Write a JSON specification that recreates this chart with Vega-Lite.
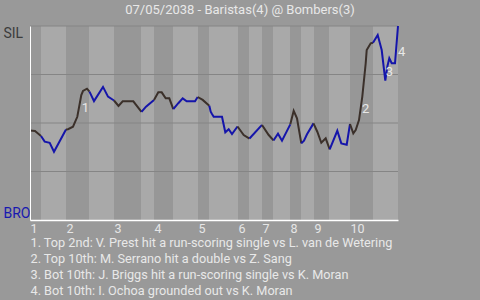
{
  "$schema": "https://vega.github.io/schema/vega-lite/v6.json",
  "width": 368,
  "height": 194,
  "autosize": {"type": "none"},
  "padding": {"left": 30, "top": 26, "right": 82, "bottom": 80},
  "background": "#999999",
  "config": {"view": {"stroke": null}, "font": "Roboto"},
  "title": {
    "text": "07/05/2038 - Baristas(4) @ Bombers(3)",
    "color": "#e8e8e8",
    "fontSize": 13,
    "fontWeight": "normal",
    "anchor": "middle",
    "frame": "group",
    "dx": 26,
    "offset": 5
  },
  "datasets": {
    "bands": [
      {"t": 0, "t2": 11, "k": "top"}, {"t": 11, "t2": 36, "k": "bot"},
      {"t": 36, "t2": 59, "k": "top"}, {"t": 59, "t2": 84, "k": "bot"},
      {"t": 84, "t2": 111, "k": "top"}, {"t": 111, "t2": 124, "k": "bot"},
      {"t": 124, "t2": 143, "k": "top"}, {"t": 143, "t2": 168, "k": "bot"},
      {"t": 168, "t2": 179, "k": "top"}, {"t": 179, "t2": 208, "k": "bot"},
      {"t": 208, "t2": 219, "k": "top"}, {"t": 219, "t2": 232, "k": "bot"},
      {"t": 232, "t2": 243, "k": "top"}, {"t": 243, "t2": 260, "k": "bot"},
      {"t": 260, "t2": 271, "k": "top"}, {"t": 271, "t2": 284, "k": "bot"},
      {"t": 284, "t2": 299, "k": "top"}, {"t": 299, "t2": 320, "k": "bot"},
      {"t": 320, "t2": 343, "k": "top"}, {"t": 343, "t2": 368, "k": "bot"}
    ],
    "grid": [{"p": 0.25}, {"p": 0.5}, {"p": 0.75}, {"p": 1}],
    "wp": [
      {"h": 0, "k": "top", "t": 0, "p": 0.461}, {"h": 0, "k": "top", "t": 5, "p": 0.459}, {"h": 0, "k": "top", "t": 11, "p": 0.433},
      {"h": 1, "k": "bot", "t": 11, "p": 0.433}, {"h": 1, "k": "bot", "t": 14.7, "p": 0.404}, {"h": 1, "k": "bot", "t": 19.7, "p": 0.398}, {"h": 1, "k": "bot", "t": 24, "p": 0.352}, {"h": 1, "k": "bot", "t": 36, "p": 0.466},
      {"h": 2, "k": "top", "t": 36, "p": 0.466}, {"h": 2, "k": "top", "t": 38, "p": 0.468}, {"h": 2, "k": "top", "t": 43, "p": 0.481}, {"h": 2, "k": "top", "t": 47.3, "p": 0.532}, {"h": 2, "k": "top", "t": 51.3, "p": 0.644}, {"h": 2, "k": "top", "t": 53, "p": 0.665}, {"h": 2, "k": "top", "t": 57, "p": 0.677}, {"h": 2, "k": "top", "t": 59.5, "p": 0.662},
      {"h": 3, "k": "bot", "t": 59.5, "p": 0.662}, {"h": 3, "k": "bot", "t": 64, "p": 0.613}, {"h": 3, "k": "bot", "t": 73, "p": 0.686}, {"h": 3, "k": "bot", "t": 78, "p": 0.636}, {"h": 3, "k": "bot", "t": 84, "p": 0.616},
      {"h": 4, "k": "top", "t": 84, "p": 0.616}, {"h": 4, "k": "top", "t": 88.5, "p": 0.588}, {"h": 4, "k": "top", "t": 92.7, "p": 0.612}, {"h": 4, "k": "top", "t": 103.3, "p": 0.612}, {"h": 4, "k": "top", "t": 111.5, "p": 0.557},
      {"h": 5, "k": "bot", "t": 111.5, "p": 0.557}, {"h": 5, "k": "bot", "t": 116, "p": 0.584}, {"h": 5, "k": "bot", "t": 124, "p": 0.619},
      {"h": 6, "k": "top", "t": 124, "p": 0.619}, {"h": 6, "k": "top", "t": 128.3, "p": 0.658}, {"h": 6, "k": "top", "t": 131.7, "p": 0.658}, {"h": 6, "k": "top", "t": 135.7, "p": 0.627}, {"h": 6, "k": "top", "t": 139.3, "p": 0.627}, {"h": 6, "k": "top", "t": 143.3, "p": 0.572},
      {"h": 7, "k": "bot", "t": 143.3, "p": 0.572}, {"h": 7, "k": "bot", "t": 148.3, "p": 0.602}, {"h": 7, "k": "bot", "t": 152.7, "p": 0.627}, {"h": 7, "k": "bot", "t": 156.7, "p": 0.612}, {"h": 7, "k": "bot", "t": 165, "p": 0.612}, {"h": 7, "k": "bot", "t": 167.7, "p": 0.634},
      {"h": 8, "k": "top", "t": 167.7, "p": 0.634}, {"h": 8, "k": "top", "t": 172.7, "p": 0.619}, {"h": 8, "k": "top", "t": 179.3, "p": 0.589},
      {"h": 9, "k": "bot", "t": 179.3, "p": 0.589}, {"h": 9, "k": "bot", "t": 180.7, "p": 0.558}, {"h": 9, "k": "bot", "t": 182, "p": 0.546}, {"h": 9, "k": "bot", "t": 183.7, "p": 0.532}, {"h": 9, "k": "bot", "t": 192, "p": 0.532}, {"h": 9, "k": "bot", "t": 195.3, "p": 0.452}, {"h": 9, "k": "bot", "t": 198.7, "p": 0.468}, {"h": 9, "k": "bot", "t": 202, "p": 0.443}, {"h": 9, "k": "bot", "t": 207.5, "p": 0.482},
      {"h": 10, "k": "top", "t": 207.5, "p": 0.482}, {"h": 10, "k": "top", "t": 213.7, "p": 0.438}, {"h": 10, "k": "top", "t": 219.5, "p": 0.42},
      {"h": 11, "k": "bot", "t": 219.5, "p": 0.42}, {"h": 11, "k": "bot", "t": 232, "p": 0.49},
      {"h": 12, "k": "top", "t": 232, "p": 0.49}, {"h": 12, "k": "top", "t": 238.7, "p": 0.438}, {"h": 12, "k": "top", "t": 243.5, "p": 0.41},
      {"h": 13, "k": "bot", "t": 243.5, "p": 0.41}, {"h": 13, "k": "bot", "t": 248, "p": 0.445}, {"h": 13, "k": "bot", "t": 252, "p": 0.409}, {"h": 13, "k": "bot", "t": 260.3, "p": 0.493},
      {"h": 14, "k": "top", "t": 260.3, "p": 0.493}, {"h": 14, "k": "top", "t": 263.7, "p": 0.563}, {"h": 14, "k": "top", "t": 267, "p": 0.524}, {"h": 14, "k": "top", "t": 271.3, "p": 0.395},
      {"h": 15, "k": "bot", "t": 271.3, "p": 0.395}, {"h": 15, "k": "bot", "t": 274, "p": 0.409}, {"h": 15, "k": "bot", "t": 277, "p": 0.442}, {"h": 15, "k": "bot", "t": 283.5, "p": 0.498},
      {"h": 16, "k": "top", "t": 283.5, "p": 0.498}, {"h": 16, "k": "top", "t": 287.3, "p": 0.455}, {"h": 16, "k": "top", "t": 291.3, "p": 0.398}, {"h": 16, "k": "top", "t": 295.7, "p": 0.421}, {"h": 16, "k": "top", "t": 299.7, "p": 0.364},
      {"h": 17, "k": "bot", "t": 299.7, "p": 0.364}, {"h": 17, "k": "bot", "t": 307.3, "p": 0.46}, {"h": 17, "k": "bot", "t": 311.3, "p": 0.395}, {"h": 17, "k": "bot", "t": 316.7, "p": 0.388}, {"h": 17, "k": "bot", "t": 320, "p": 0.495},
      {"h": 18, "k": "top", "t": 320, "p": 0.495}, {"h": 18, "k": "top", "t": 323.3, "p": 0.447}, {"h": 18, "k": "top", "t": 325.7, "p": 0.464}, {"h": 18, "k": "top", "t": 329, "p": 0.515}, {"h": 18, "k": "top", "t": 332.3, "p": 0.636}, {"h": 18, "k": "top", "t": 335.7, "p": 0.808}, {"h": 18, "k": "top", "t": 336.7, "p": 0.876}, {"h": 18, "k": "top", "t": 340.7, "p": 0.911}, {"h": 18, "k": "top", "t": 343, "p": 0.914},
      {"h": 19, "k": "bot", "t": 343, "p": 0.914}, {"h": 19, "k": "bot", "t": 347.7, "p": 0.954}, {"h": 19, "k": "bot", "t": 351.7, "p": 0.876}, {"h": 19, "k": "bot", "t": 355.3, "p": 0.719}, {"h": 19, "k": "bot", "t": 357.3, "p": 0.79}, {"h": 19, "k": "bot", "t": 359.3, "p": 0.834}, {"h": 19, "k": "bot", "t": 361.7, "p": 0.808}, {"h": 19, "k": "bot", "t": 365, "p": 0.808}, {"h": 19, "k": "bot", "t": 368, "p": 1.0}
    ],
    "notes": [
      {"lbl": "1", "t": 55.3, "p": 0.576},
      {"lbl": "2", "t": 335.7, "p": 0.571},
      {"lbl": "3", "t": 359.3, "p": 0.764},
      {"lbl": "4", "t": 371.7, "p": 0.868}
    ]
  },
  "encoding": {
    "x": {
      "field": "t", "type": "quantitative",
      "scale": {"domain": [0, 368], "nice": false, "zero": false},
      "axis": {
        "values": [0, 36, 84, 124, 168, 208, 232, 260, 284, 320],
        "labelExpr": "indexof([0, 36, 84, 124, 168, 208, 232, 260, 284, 320], datum.value) + 1",
        "labelAlign": "left",
        "labelOverlap": false,
        "labelFlush": false,
        "labelPadding": 2,
        "labelColor": "#e6e6e6",
        "labelFontSize": 12.5,
        "ticks": false,
        "tickSize": 0,
        "grid": false,
        "domainColor": "#ffffff",
        "domainWidth": 1.5,
        "zindex": 1,
        "title": [
          "1. Top 2nd: V. Prest hit a run-scoring single vs L. van de Wetering",
          "2. Top 10th: M. Serrano hit a double vs Z. Sang",
          "3. Bot 10th: J. Briggs hit a run-scoring single vs K. Moran",
          "4. Bot 10th: I. Ochoa grounded out vs K. Moran"
        ],
        "titleAnchor": "start",
        "titleAlign": "left",
        "titleBaseline": "alphabetic",
        "titleX": 0,
        "titleY": 26,
        "titleLineHeight": 16,
        "titleFontSize": 12.7,
        "titleFontWeight": "normal",
        "titleColor": "#e8e8e8"
      }
    },
    "y": {
      "field": "p", "type": "quantitative",
      "scale": {"domain": [0, 1], "nice": false},
      "axis": {
        "values": [0, 1],
        "labelExpr": "datum.value == 1 ? 'SIL' : 'BRO'",
        "labelFlush": true,
        "labelAlign": "left",
        "labelPadding": 27,
        "labelFontSize": 14,
        "labelColor": {"condition": {"test": "datum.value == 0", "value": "#1818b0"}, "value": "#3c3c3c"},
        "ticks": false,
        "tickSize": 0,
        "grid": false,
        "domainColor": "#ffffff",
        "domainWidth": 1,
        "zindex": 1,
        "title": null
      }
    }
  },
  "layer": [
    {
      "data": {"name": "bands"},
      "mark": {"type": "rect"},
      "encoding": {
        "y": null,
        "x2": {"field": "t2"},
        "fill": {
          "field": "k", "type": "nominal",
          "scale": {"domain": ["top", "bot"], "range": ["#979797", "#a9a9a9"]},
          "legend": null
        }
      }
    },
    {
      "data": {"name": "grid"},
      "mark": {"type": "rule", "color": "#858585", "strokeWidth": 1},
      "encoding": {
        "x": null
      }
    },
    {
      "data": {"name": "wp"},
      "mark": {"type": "line", "strokeWidth": 2, "interpolate": "linear"},
      "encoding": {
        "detail": {"field": "h", "type": "nominal"},
        "stroke": {
          "field": "k", "type": "nominal",
          "scale": {"domain": ["top", "bot"], "range": ["#3b302a", "#1515aa"]},
          "legend": null
        }
      }
    },
    {
      "data": {"name": "notes"},
      "mark": {"type": "text", "color": "#e8e8e8", "fontSize": 13, "align": "center", "baseline": "middle"},
      "encoding": {
        "text": {"field": "lbl"}
      }
    }
  ]
}
